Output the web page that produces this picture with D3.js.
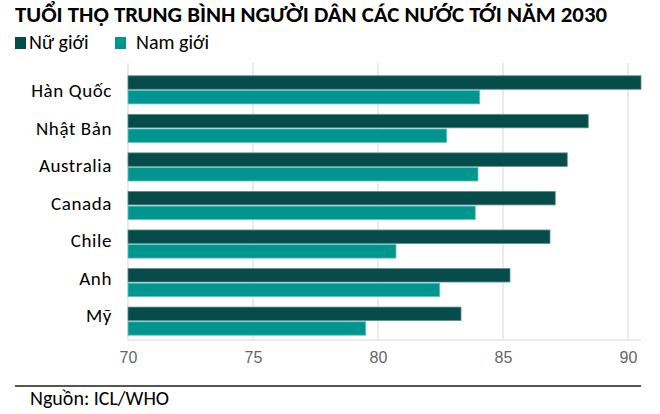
<!DOCTYPE html>
<html><head><meta charset="utf-8">
<script src="https://cdn.jsdelivr.net/npm/d3@7"></script>
<style>body{margin:0;background:#fff}svg{display:block}</style>
</head><body>
<svg id="c" width="660" height="414"></svg>
<script>
const countries = ["Hàn Quốc","Nhật Bản","Australia","Canada","Chile","Anh","Mỹ"];
const female = [90.52, 88.41, 87.57, 87.09, 86.88, 85.28, 83.32];
const male   = [84.07, 82.75, 84.00, 83.89, 80.72, 82.47, 79.51];
const seriesNames = ["Nữ giới","Nam giới"];
const seriesColors = ["#054c4b","#00968f"];
const xTicks = [70,75,80,85,90];
const title = "TUỔI THỌ TRUNG BÌNH NGƯỜI DÂN CÁC NƯỚC TỚI NĂM 2030";
const source = "Nguồn: ICL/WHO";

const svg = d3.select("#c");
const font = "Carlito, Lato, 'Open Sans', sans-serif";
const x = d3.scaleLinear().domain([70, 90.52]).range([128, 641]);
const y = d3.scaleBand().domain(countries).range([70, 341]).paddingInner(0.27).paddingOuter(0.15);
const ySub = d3.scaleBand().domain([0,1]).range([0, y.bandwidth()]).paddingInner(0.08);
const yLabel = d3.scalePoint().domain(countries).range([97, 322]);

// title
svg.append("text").attr("x",15).attr("y",22).attr("font-family",font).attr("font-weight","bold")
  .attr("font-size",22).attr("fill","#000").attr("textLength",592).attr("lengthAdjust","spacingAndGlyphs").text(title);

// legend
const legX = [15,115], legT = [29,136];
seriesNames.forEach((n,i)=>{
  svg.append("rect").attr("x",legX[i]).attr("y",37).attr("width",11).attr("height",12).attr("fill",seriesColors[i]);
  svg.append("text").attr("x",legT[i]).attr("y",49).attr("font-family",font).attr("font-size",20).attr("fill","#000").text(n);
});

// gridlines
svg.append("g").selectAll("line").data(xTicks).join("line")
  .attr("x1",d=>x(d)).attr("x2",d=>x(d)).attr("y1",63).attr("y2",340)
  .attr("stroke","#e4e4e4").attr("stroke-width",1.5);
// axis baseline
svg.append("line").attr("x1",128).attr("x2",641).attr("y1",340).attr("y2",340).attr("stroke","#e4e4e4").attr("stroke-width",1.5);

// bars
const data = [female, male];
data.forEach((vals,s)=>{
  svg.append("g").selectAll("rect").data(countries).join("rect")
    .attr("x",x(70)).attr("y",(c)=>y(c)+ySub(s))
    .attr("width",(c,i)=>x(vals[i])-x(70)).attr("height",ySub.bandwidth())
    .attr("fill",seriesColors[s]).attr("stroke",s===0?"#5e8f8e":"#6cc2bd").attr("stroke-width",0.8);
});

// country labels
svg.append("g").selectAll("text").data(countries).join("text")
  .attr("x",112).attr("y",c=>yLabel(c)).attr("text-anchor","end")
  .attr("font-family",font).attr("font-size",19).attr("letter-spacing",0.6).attr("fill","#000").text(d=>d);

// x axis labels
const xAxis = d3.axisBottom(x).tickValues(xTicks).tickSize(0).tickPadding(0);
const ga = svg.append("g").attr("transform","translate(0,352)").call(xAxis);
ga.select(".domain").remove();
ga.selectAll("text").attr("font-family","'Liberation Sans', Arial, sans-serif").attr("font-size",16).attr("fill","#666").attr("dy","0.71em");

// source
svg.append("line").attr("x1",15).attr("x2",641).attr("y1",386).attr("y2",386).attr("stroke","#555").attr("stroke-width",2);
svg.append("text").attr("x",30).attr("y",405).attr("font-family",font).attr("font-size",20).attr("fill","#000").text(source);
</script>
</body></html>
